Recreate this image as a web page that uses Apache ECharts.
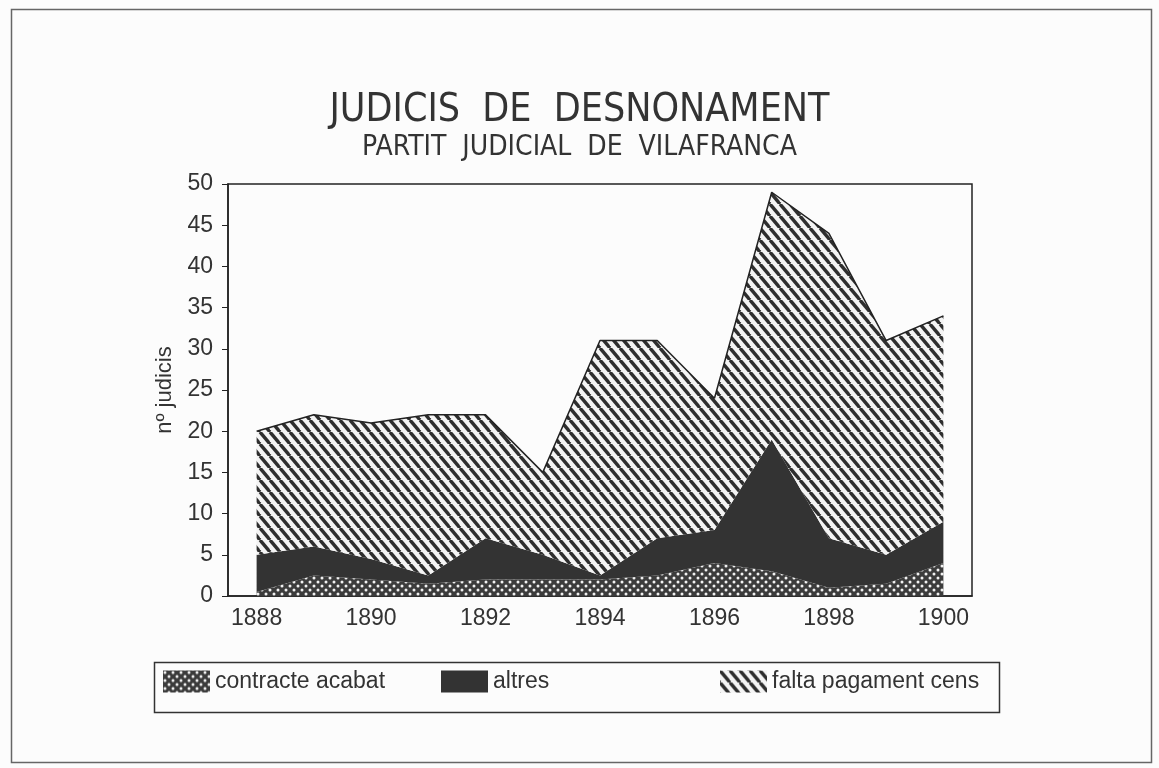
<!DOCTYPE html>
<html>
<head>
<meta charset="utf-8">
<script src="https://cdn.jsdelivr.net/npm/echarts@6/dist/echarts.min.js"></script>
<style>
  html, body { margin: 0; padding: 0; background: #fcfcfc; }
  #chart { width: 1159px; height: 768px; }
</style>
</head>
<body>
<div id="chart"></div>
<script>
// data
const years = ['1888', '1889', '1890', '1891', '1892', '1893', '1894', '1895', '1896', '1897', '1898', '1899', '1900']
const contracteAcabat = [0.5, 2.5, 2, 1.5, 2, 2, 2, 2.5, 4, 3, 1, 1.5, 4]
const altres = [4.5, 3.5, 2.5, 1, 5, 3, 0.5, 4.5, 4, 16, 6, 3.5, 5]
const faltaPagament = [15, 16, 16.5, 19.5, 15, 10, 28.5, 24, 16, 30, 37, 26, 25]
const yTicks = [0, 5, 10, 15, 20, 25, 30, 35, 40, 45, 50]

const NARROW = '"Liberation Sans Narrow", "DejaVu Sans Condensed", sans-serif'
const FONT = '"Liberation Sans", Arial, sans-serif'
const INK = '#333'

// fill patterns
function hatchTile() {
  const w = 10
  const h = 12
  const c = document.createElement('canvas')
  c.width = w
  c.height = h
  const ctx = c.getContext('2d')
  ctx.fillStyle = '#f4f4f4'
  ctx.fillRect(0, 0, w, h)
  ctx.strokeStyle = '#2e2e2e'
  ctx.lineWidth = 3.4
  for (const o of [-w, 0, w]) {
    ctx.beginPath()
    ctx.moveTo(o, 0)
    ctx.lineTo(o + w, h)
    ctx.stroke()
  }
  return c
}
function crossTile() {
  const s = 8
  const c = document.createElement('canvas')
  c.width = s
  c.height = s
  const ctx = c.getContext('2d')
  ctx.fillStyle = '#3c3c3c'
  ctx.fillRect(0, 0, s, s)
  ctx.fillStyle = '#f2f2f2'
  for (const [x, y] of [[2, 2], [6, 6]]) {
    ctx.beginPath()
    ctx.arc(x, y, 1.5, 0, Math.PI * 2)
    ctx.fill()
  }
  return c
}
const hatch = { image: hatchTile(), repeat: 'repeat' }
const cross = { image: crossTile(), repeat: 'repeat' }
const solid = '#333333'

const legendText = { fontFamily: FONT, fontSize: 23, color: INK }
function legendFor(name, fill, left) {
  return {
    data: [{ name: name, icon: 'rect', itemStyle: { color: fill, borderWidth: 0 } }],
    left: left,
    top: 670,
    padding: 0,
    itemWidth: 47,
    itemHeight: 22,
    textStyle: legendText,
    selectedMode: false
  }
}

const chart = echarts.init(document.getElementById('chart'))
chart.setOption({
  backgroundColor: '#fcfcfc',
  animation: false,
  title: [
    {
      text: 'JUDICIS  DE  DESNONAMENT',
      left: 'center',
      top: 86,
      textStyle: { fontFamily: NARROW, fontSize: 39, fontWeight: 'normal', color: INK }
    },
    {
      text: 'PARTIT  JUDICIAL  DE  VILAFRANCA',
      left: 'center',
      top: 129,
      textStyle: { fontFamily: NARROW, fontSize: 28, fontWeight: 'normal', color: INK }
    }
  ],
  legend: [
    legendFor('contracte acabat', cross, 163),
    legendFor('altres', solid, 441),
    legendFor('falta pagament cens', hatch, 720)
  ],
  graphic: [
    {
      type: 'rect',
      left: 9,
      top: 7,
      shape: { width: 1140, height: 753 },
      style: { fill: 'none', stroke: '#666', lineWidth: 1.5 },
      silent: true
    },
    {
      type: 'rect',
      left: 152,
      top: 660,
      shape: { width: 845, height: 50 },
      style: { fill: 'none', stroke: '#333', lineWidth: 1.5 },
      silent: true
    }
  ],
  grid: {
    left: 228,
    right: 187,
    top: 184,
    bottom: 172,
    show: true,
    borderColor: '#222',
    borderWidth: 1.5,
    backgroundColor: 'transparent'
  },
  xAxis: {
    type: 'category',
    data: years,
    boundaryGap: true,
    axisLine: { lineStyle: { color: '#222', width: 1.5 } },
    axisTick: { alignWithLabel: true, interval: 0, length: 6, lineStyle: { color: '#222' } },
    axisLabel: { interval: 1, margin: 11, fontFamily: FONT, fontSize: 23, color: INK }
  },
  yAxis: {
    type: 'value',
    min: yTicks[0],
    max: yTicks[yTicks.length - 1],
    interval: 5,
    name: 'nº judicis',
    nameLocation: 'middle',
    nameGap: 52,
    nameTextStyle: { fontFamily: FONT, fontSize: 22, color: INK },
    axisLine: { show: true, lineStyle: { color: '#222', width: 1.5 } },
    axisTick: { show: true, length: 6, lineStyle: { color: '#222' } },
    axisLabel: { margin: 15, fontFamily: FONT, fontSize: 23, color: INK },
    splitLine: { show: false }
  },
  series: [
    {
      name: 'contracte acabat',
      type: 'line',
      stack: 'total',
      data: contracteAcabat,
      symbol: 'none',
      color: '#555',
      lineStyle: { width: 0 },
      areaStyle: { color: cross, opacity: 1 }
    },
    {
      name: 'altres',
      type: 'line',
      stack: 'total',
      data: altres,
      symbol: 'none',
      color: solid,
      lineStyle: { width: 0 },
      areaStyle: { color: solid, opacity: 1 }
    },
    {
      name: 'falta pagament cens',
      type: 'line',
      stack: 'total',
      data: faltaPagament,
      symbol: 'none',
      color: '#222',
      lineStyle: { width: 1.5, color: '#222' },
      areaStyle: { color: hatch, opacity: 1 }
    }
  ]
})
</script>
</body>
</html>
